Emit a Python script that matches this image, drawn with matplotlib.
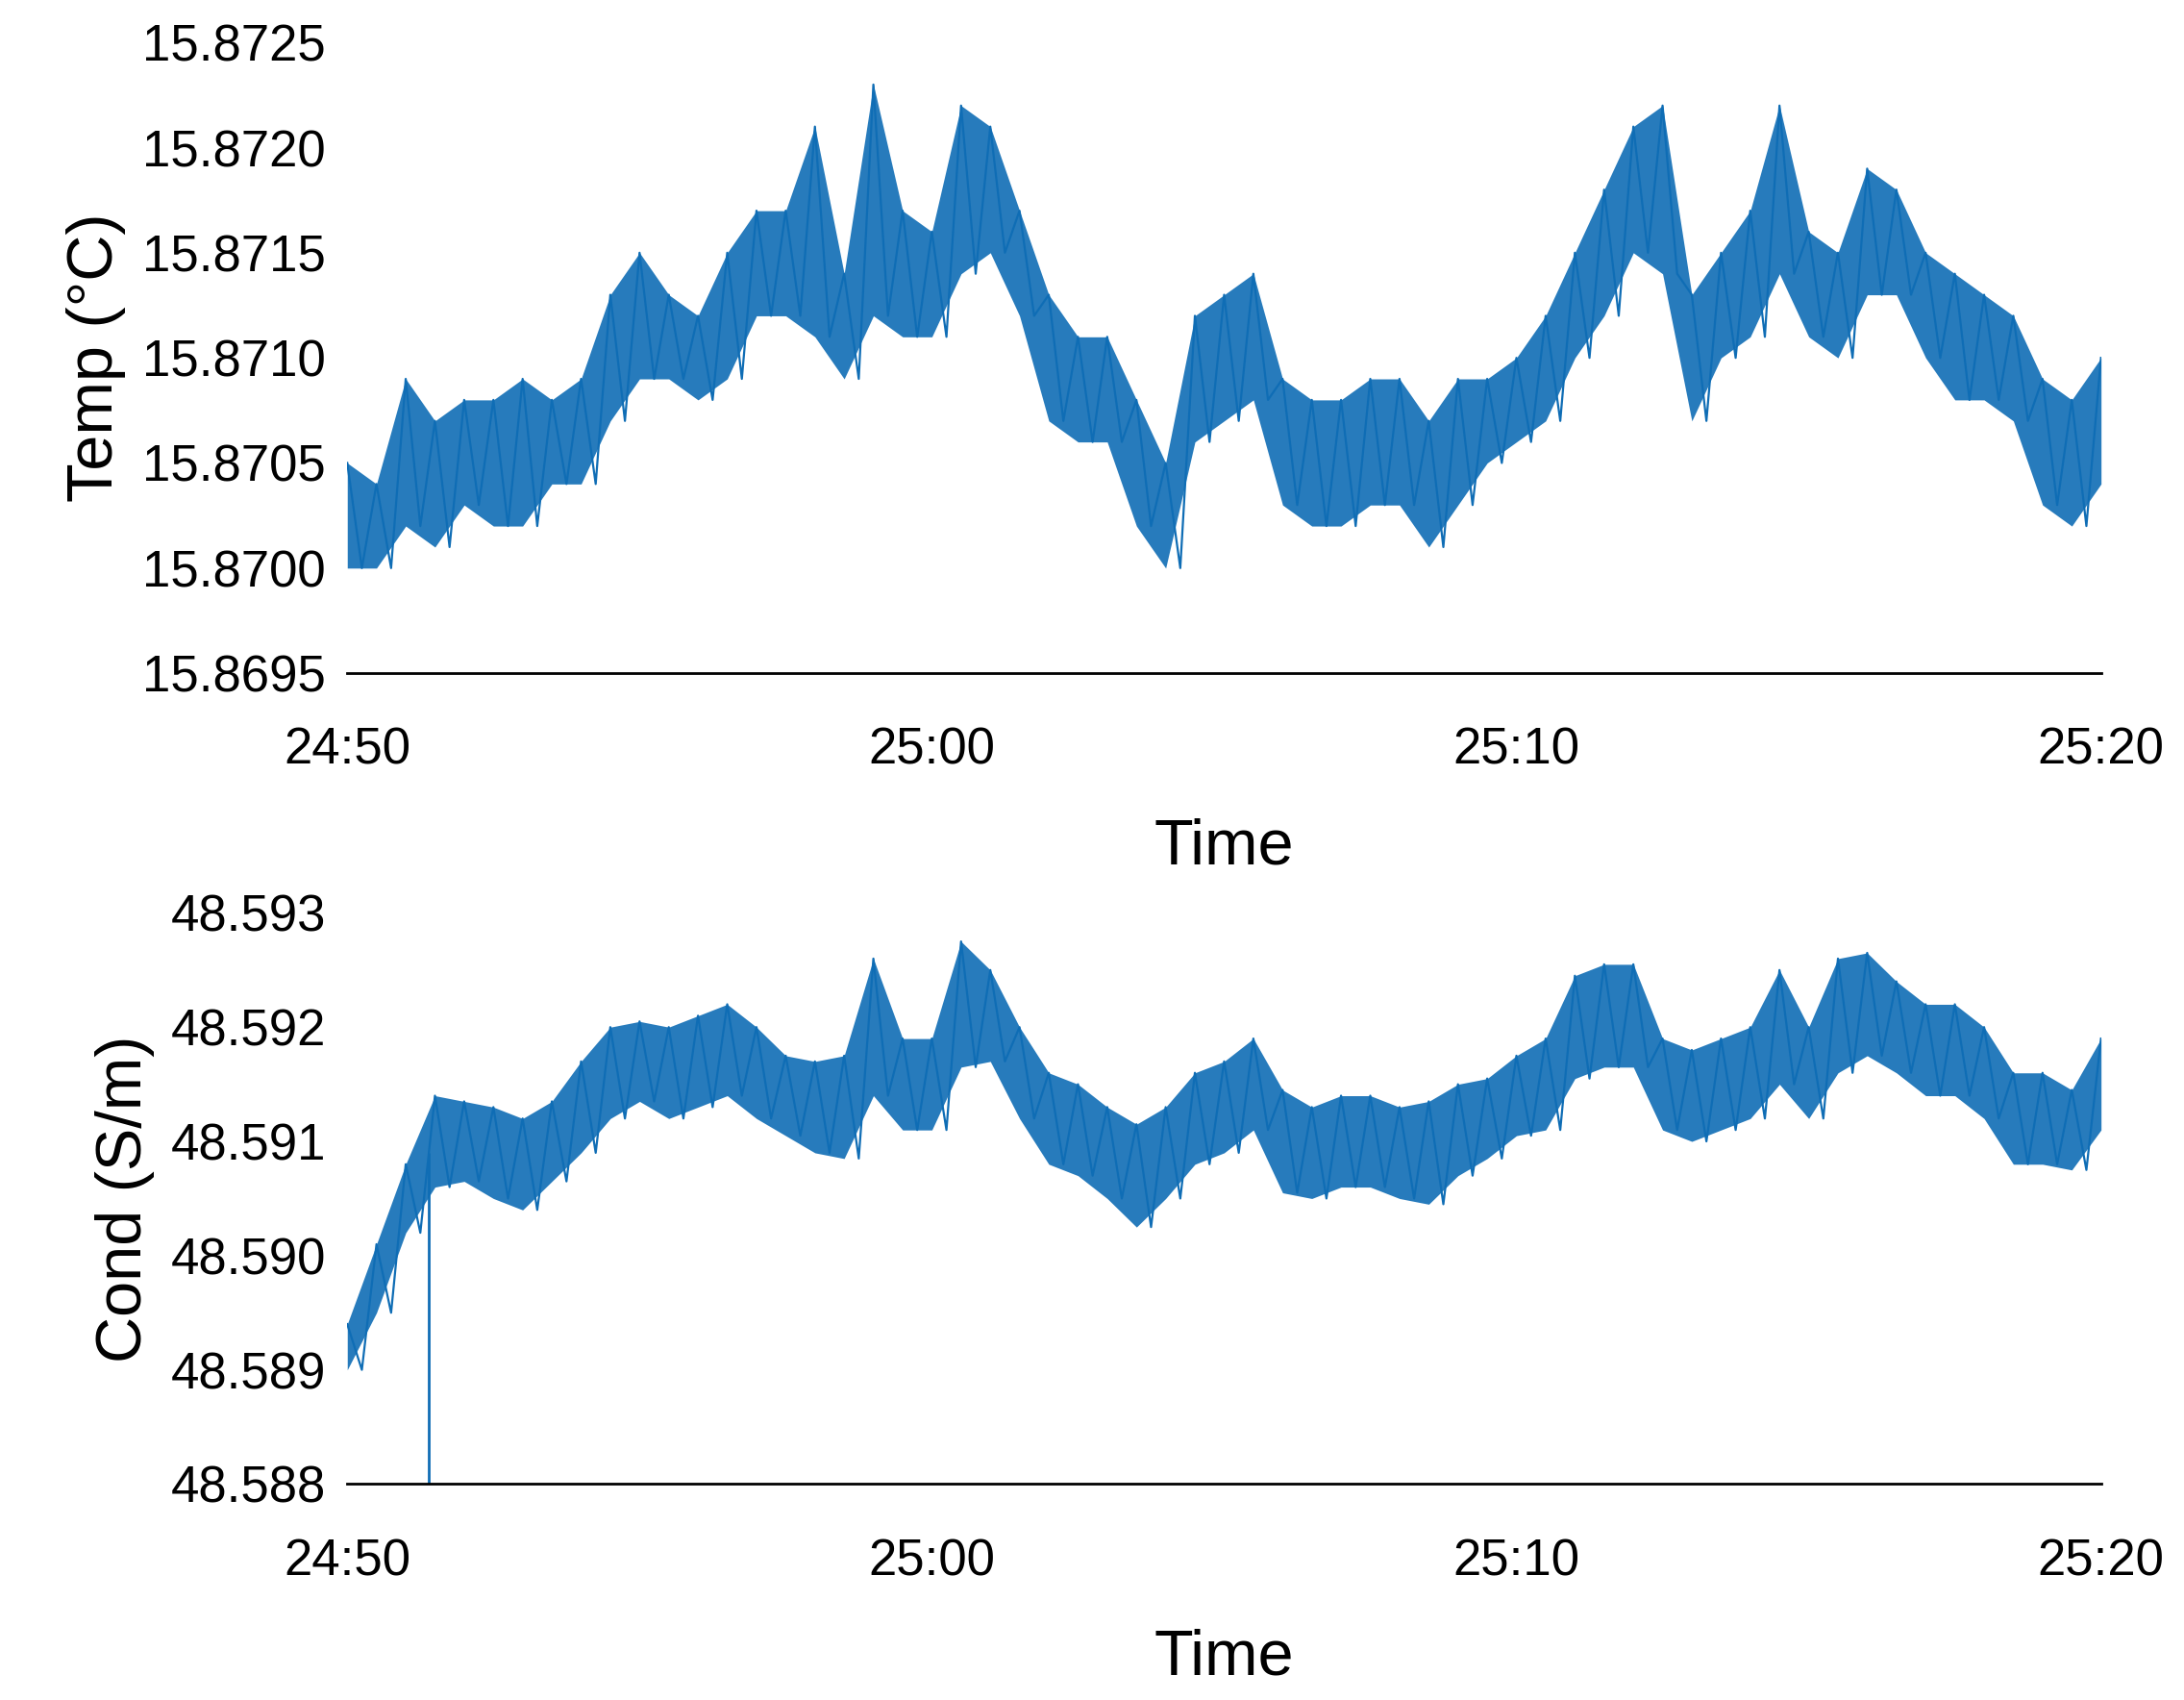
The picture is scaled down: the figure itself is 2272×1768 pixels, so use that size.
import numpy as np
import matplotlib.pyplot as plt

plt.rcParams['font.family'] = ['Liberation Sans', 'DejaVu Sans']

# minutes after 24:50, sampled every half minute
minutes = [i * 0.5 for i in range(61)]

# temperature envelope, in units of 1e-4 degC above 15.8700
temp_hi = [5, 4, 9, 7, 8, 8, 9, 8, 9, 13, 15, 13, 12, 15, 17, 17, 21, 14, 23, 17,
           16, 22, 21, 17, 13, 11, 11, 8, 5, 12, 13, 14, 9, 8, 8, 9, 9, 7, 9, 9,
           10, 12, 15, 18, 21, 22, 13, 15, 17, 22, 16, 15, 19, 18, 15, 14, 13, 12, 9, 8, 10]
temp_lo = [0, 0, 2, 1, 3, 2, 2, 4, 4, 7, 9, 9, 8, 9, 12, 12, 11, 9, 12, 11,
           11, 14, 15, 12, 7, 6, 6, 2, 0, 6, 7, 8, 3, 2, 2, 3, 3, 1, 3, 5,
           6, 7, 10, 12, 15, 14, 7, 10, 11, 14, 11, 10, 13, 13, 10, 8, 8, 7, 3, 2, 4]

# conductivity centre and half-spread, in units of 1e-3 S/m above 48.588
cond_mid = [1.2, 1.8, 2.5, 3.0, 3.0, 2.9, 2.8, 3.0, 3.3, 3.6, 3.7, 3.6, 3.7, 3.8, 3.6, 3.4,
            3.3, 3.3, 4.0, 3.5, 3.5, 4.2, 4.1, 3.6, 3.2, 3.1, 2.9, 2.7, 2.9, 3.2, 3.3, 3.5,
            3.0, 2.9, 3.0, 3.0, 2.9, 2.9, 3.1, 3.2, 3.4, 3.5, 4.0, 4.1, 4.1, 3.5, 3.4, 3.5,
            3.6, 4.0, 3.6, 4.1, 4.2, 4.0, 3.8, 3.8, 3.6, 3.2, 3.2, 3.1, 3.5]
cond_spread = [0.2, 0.3, 0.3, 0.4, 0.35, 0.4, 0.4, 0.35, 0.4, 0.4, 0.35, 0.4, 0.4, 0.4, 0.4, 0.35,
               0.4, 0.45, 0.6, 0.4, 0.4, 0.55, 0.4, 0.4, 0.4, 0.4, 0.4, 0.45, 0.4, 0.4, 0.4, 0.4,
               0.45, 0.4, 0.4, 0.4, 0.4, 0.45, 0.4, 0.35, 0.35, 0.4, 0.45, 0.45, 0.45, 0.4, 0.4, 0.4,
               0.4, 0.5, 0.4, 0.5, 0.45, 0.4, 0.4, 0.4, 0.4, 0.4, 0.4, 0.35, 0.4]
spike_min, spike_val = 1.4, 48.588

tick_pos = [0, 10, 20, 30]
tick_lab = ["24:50", "25:00", "25:10", "25:20"]
blue = "#0f6db5"

x = np.array(minutes)
t_hi = 15.87 + np.array(temp_hi) * 1e-4
t_lo = 15.87 + np.array(temp_lo) * 1e-4
c_mid = 48.588 + np.array(cond_mid) * 1e-3
c_hi = c_mid + np.array(cond_spread) * 1e-3
c_lo = c_mid - np.array(cond_spread) * 1e-3


def zigzag(hi, lo):
    xs = np.ravel(np.column_stack([x, x + 0.25]))[:-1]
    ys = np.ravel(np.column_stack([hi, lo]))[:-1]
    return xs, ys


fig = plt.figure(figsize=(11.36, 8.84), dpi=200)
ax1 = fig.add_axes([0.159, 0.604, 0.803, 0.371])
ax2 = fig.add_axes([0.159, 0.127, 0.803, 0.336])

ax1.fill_between(x, t_lo, t_hi, color=blue, alpha=0.9, lw=0)
ax1.plot(*zigzag(t_hi, t_lo), color=blue, lw=0.8)
ax1.set_ylim(15.8695, 15.8725)
ax1.set_yticks(np.arange(15.8695, 15.87251, 0.0005))
ax1.yaxis.set_major_formatter(plt.FormatStrFormatter("%.4f"))
ax1.set_ylabel("Temp (°C)", fontsize=24, labelpad=6)

ax2.fill_between(x, c_lo, c_hi, color=blue, alpha=0.9, lw=0)
ax2.plot(*zigzag(c_hi, c_lo), color=blue, lw=0.8)
ax2.vlines(spike_min, spike_val, np.interp(spike_min, x, c_mid), color=blue, lw=1)
ax2.set_ylim(48.588, 48.593)
ax2.set_yticks(np.arange(48.588, 48.5931, 0.001))
ax2.yaxis.set_major_formatter(plt.FormatStrFormatter("%.3f"))
ax2.set_ylabel("Cond (S/m)", fontsize=24, labelpad=6)

for ax in (ax1, ax2):
    ax.set_xlim(0, 30)
    ax.set_xticks(tick_pos)
    ax.set_xticklabels(tick_lab)
    ax.set_xlabel("Time", fontsize=24, labelpad=16)
    for s in ("top", "right", "left"):
        ax.spines[s].set_visible(False)
    ax.spines["bottom"].set_linewidth(1)
    ax.tick_params(axis="y", length=0, labelsize=19, pad=8)
    ax.tick_params(axis="x", length=0, labelsize=19, pad=20)

fig.savefig("out.png", dpi=200)
